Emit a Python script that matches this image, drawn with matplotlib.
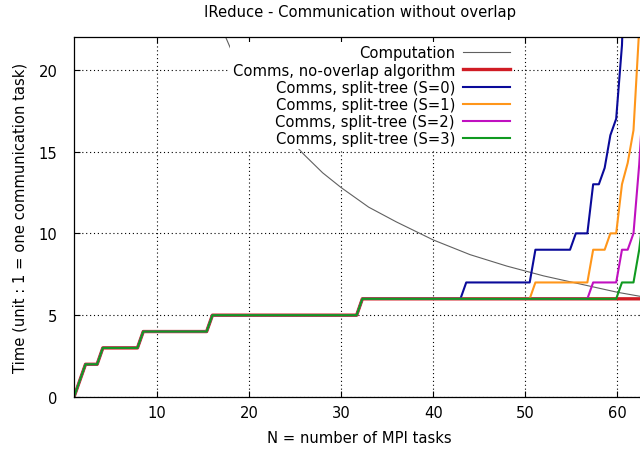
import matplotlib
matplotlib.use("Agg")
import matplotlib.pyplot as plt

# shared part of every communication curve (the log2 staircase)
n_common = [1, 2.25, 3.51, 4.13, 7.89, 8.52, 15.40, 16.03, 31.69, 32.31]
t_common = [0, 2, 2, 3, 3, 4, 4, 5, 5, 6]

n_no_overlap = n_common + [63]
t_no_overlap = t_common + [6]

n_s0 = n_common + [42.96, 43.59, 50.48, 51.10, 54.86, 55.49, 56.74, 57.37,
                   57.99, 58.62, 59.24, 59.87, 60.50, 61.12]
t_s0 = t_common + [6, 7, 7, 9, 9, 10, 10, 13, 13, 14, 16, 17, 21.5, 32]

n_s1 = n_common + [50.48, 51.10, 56.74, 57.37, 58.62, 59.24, 59.87, 60.50,
                   61.12, 61.75, 62.37, 63]
t_s1 = t_common + [6, 7, 7, 9, 9, 10, 10, 13, 14.3, 16.3, 22.5, 35]

n_s2 = n_common + [56.74, 57.37, 59.87, 60.50, 61.12, 61.75, 62.37, 63]
t_s2 = t_common + [6, 7, 7, 9, 9, 10, 14.2, 20]

n_s3 = n_common + [59.87, 60.50, 61.75, 62.37, 63]
t_s3 = t_common + [6, 7, 7, 9, 12]

# computation time
n_comp = [17, 18, 19, 20, 22, 24, 26, 28, 30, 33, 36, 40, 44, 48, 52, 56, 60, 63]
t_comp = [22.6, 21.3, 20.2, 19.2, 17.5, 16.0, 14.8, 13.7, 12.8, 11.6, 10.7,
          9.6, 8.7, 8.0, 7.4, 6.9, 6.4, 6.1]

x_ticks = [10, 20, 30, 40, 50, 60]
y_ticks = [0, 5, 10, 15, 20]

plt.rcParams["font.family"] = "DejaVu Sans"
plt.rcParams["font.size"] = 10.6

fig = plt.figure(figsize=(6.4, 4.52), dpi=100)
# right edge of the plot sits just past the image border
ax = fig.add_axes([74 / 640, 54 / 452, 571 / 640, 360 / 452])

ax.plot(n_comp, t_comp, color="#606060", linewidth=0.8, label="Computation")
ax.plot(n_no_overlap, t_no_overlap, color="#d01c24", linewidth=2.4,
        label="Comms, no-overlap algorithm")
ax.plot(n_s0, t_s0, color="#0a0a9a", linewidth=1.5, label="Comms, split-tree (S=0)")
ax.plot(n_s1, t_s1, color="#ff961a", linewidth=1.5, label="Comms, split-tree (S=1)")
ax.plot(n_s2, t_s2, color="#c010c0", linewidth=1.5, label="Comms, split-tree (S=2)")
ax.plot(n_s3, t_s3, color="#109a20", linewidth=1.5, label="Comms, split-tree (S=3)")

ax.set_xlim(1, 63)
ax.set_ylim(0, 22)
ax.set_xticks(x_ticks)
ax.set_yticks(y_ticks)
ax.tick_params(direction="in", length=4, width=0.8, top=True, right=True,
               colors="black", labelsize=10.6)
ax.tick_params(axis="x", pad=6)
ax.tick_params(axis="y", pad=12)
ax.grid(True, color="black", linewidth=0.8, linestyle=(0, (1, 2.5)))
for sp in ax.spines.values():
    sp.set_linewidth(0.9)

ax.set_title("IReduce - Communication without overlap", fontsize=10.6, pad=15)
ax.set_xlabel("N = number of MPI tasks", labelpad=7)
ax.set_ylabel("Time (unit : 1 = one communication task)", labelpad=8)

leg = ax.legend(loc="upper right", bbox_to_anchor=(0.769, 0.985),
                markerfirst=False, frameon=True, fancybox=False,
                handlelength=3.2, handletextpad=0.55, labelspacing=0.15,
                borderpad=0.2, borderaxespad=0.0)
leg.get_frame().set_edgecolor("none")
leg.get_frame().set_facecolor("white")
leg.get_frame().set_alpha(1.0)

plt.savefig("out.png", dpi=100)
plt.close()
